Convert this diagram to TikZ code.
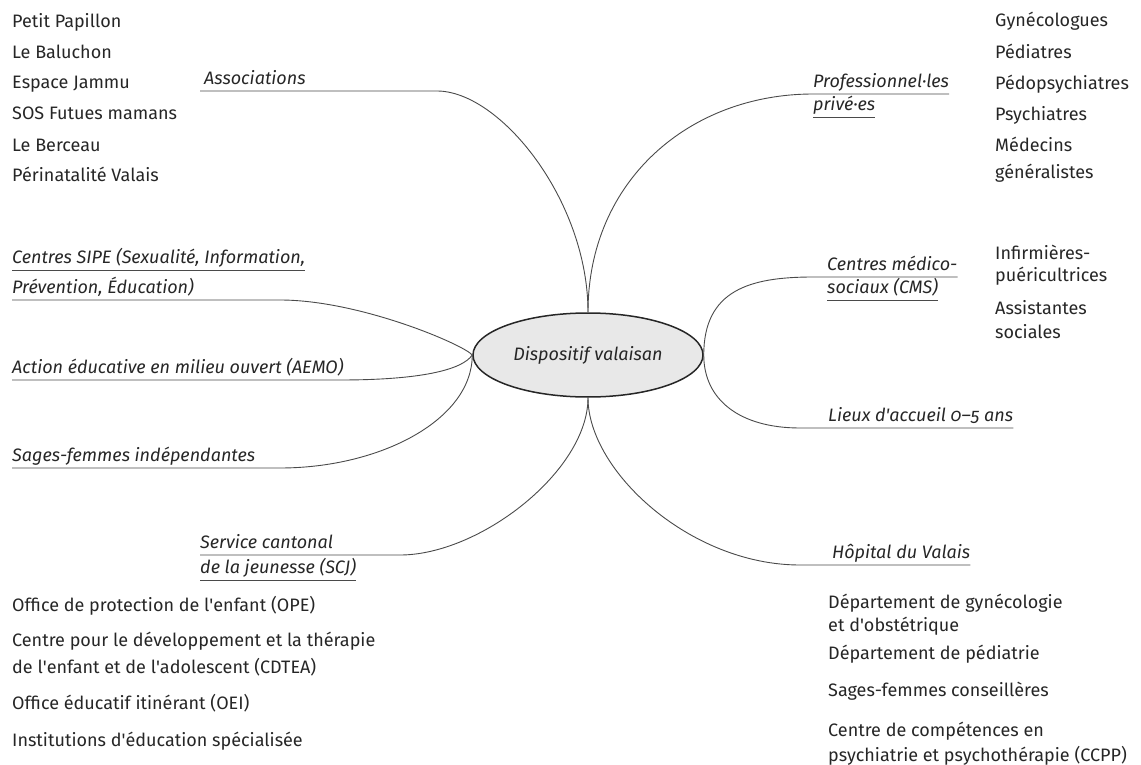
\documentclass[tikz,border=0pt]{standalone}
\usepackage{fontspec}
\setmainfont{Fira Sans}[Numbers=OldStyle]
\usetikzlibrary{positioning,shapes.geometric}
\definecolor{ink}{HTML}{262626}
\definecolor{twiggray}{HTML}{4a4a4a}
\definecolor{hubfill}{HTML}{e8e8e8}
\newcommand{\apos}{\textquotesingle}
\tikzset{
  entry/.style={
    anchor = base west,
    inner sep = 0pt,
    text = ink,
    font = \fontsize{18}{22}\selectfont
  },
  branchtext/.style={
    anchor = south west,
    inner xsep = 0pt,
    inner ysep = 0pt,
    text depth = 6pt,
    text = ink,
    font = \fontsize{18}{22}\selectfont\itshape
  },
  hub/.style={
    shape = ellipse,
    draw = ink,
    fill = hubfill,
    line width = 1.5pt,
    minimum width = 230pt,
    minimum height = 84pt,
    inner sep = 0pt,
    text = ink,
    font = \fontsize{18}{22}\selectfont\itshape
  },
  twig/.style={
    draw = twiggray,
    line width = 0.9pt
  }
}

\begin{document}
\begin{tikzpicture}[x=1pt,y=-1pt]
    \useasboundingbox (0,0) rectangle (1141,765);
    \node[hub] (hub) at (588,355) {Dispositif valaisan};

    % branch labels
    \node[branchtext] (assoc) at (204,91) {Associations};
    \node[branchtext] (prof) at (813,94) {Professionnel·les};
    \node[branchtext] (prof2) at (813,117) {privé·es};
    \node[branchtext] (sipe1) at (12,270) {Centres SIPE (Sexualité, Information,};
    \node[branchtext] (sipe2) at (12,300) {Prévention, Éducation)};
    \node[branchtext] (aemo) at (12,380) {Action éducative en milieu ouvert (AEMO)};
    \node[branchtext] (sages) at (12,468) {Sages-femmes indépendantes};
    \node[branchtext] (scj1) at (200,555) {Service cantonal};
    \node[branchtext] (scj2) at (200,580) {de la jeunesse (SCJ)};
    \node[branchtext] (cms1) at (827,277) {Centres médico-};
    \node[branchtext] (cms2) at (827,300) {sociaux (CMS)};
    \node[branchtext] (lieux) at (828,428) {Lieux d\apos accueil 0–5 ans};
    \node[branchtext] (hop) at (832,565) {Hôpital du Valais};

    % underlines of the other lines
    \draw[twig] (prof2.south west) -- (prof2.south east);
    \draw[twig] (sipe1.south west) -- (sipe1.south east);
    \draw[twig] (scj2.south west) -- (scj2.south east);
    \draw[twig] (cms2.south west) -- (cms2.south east);

    % branches
    \draw[twig] ([xshift=-4pt]assoc.south west) -- ++(237,0) .. controls +(63,0) and +(0,-112) .. (hub.north);
    \draw[twig] (hub.north) .. controls +(0,-132) and +(-123,0) .. (prof.south west) -- (prof.south east);
    \draw[twig] (sipe2.south west) -- ++(268,0) .. controls +(80,0) and +(-8,-10) .. (hub.west);
    \draw[twig] (aemo.south west) -- ++(328,0) .. controls +(80,0) and +(-10,15) .. (hub.west);
    \draw[twig] (sages.south west) -- ++(268,0) .. controls +(100,0) and +(0,65) .. (hub.west);
    \draw[twig] (scj1.south west) -- ++(200,0) .. controls +(80,0) and +(0,73) .. (hub.south);
    \draw[twig] (hub.south) .. controls +(0,73) and +(-110,0) .. ([xshift=-32pt]hop.south west) -- (hop.south east);
    \draw[twig] (hub.east) .. controls +(0,45) and +(-60,0) .. ([xshift=-28pt]lieux.south west) -- (lieux.south east);
    \draw[twig] (hub.east) .. controls +(0,-65) and +(-63,0) .. ([xshift=-14pt]cms1.south west) -- (cms1.south east);

    % lists
    \foreach \y/\t [count=\i] in {27.5/Petit Papillon, 58.5/Le Baluchon, 88.5/Espace Jammu,
        119.5/SOS Futues mamans, 151.5/Le Berceau, 181.5/Périnatalité Valais}{
        \node[entry] (asso\i) at (12,\y) {\t};
    }
    \foreach \y/\t [count=\i] in {26.5/Gynécologues, 59/Pédiatres, 89.5/Pédopsychiatres,
        121/Psychiatres, 151.5/Médecins, 178.5/généralistes}{
        \node[entry] (prive\i) at (995,\y) {\t};
    }
    \foreach \y/\t [count=\i] in {259.5/Infirmières-, 281.5/puéricultrices,
        314.5/Assistantes, 338.5/sociales}{
        \node[entry] (cmsitem\i) at (995,\y) {\t};
    }
    \foreach \y/\t [count=\i] in {611.5/Office de protection de l\apos enfant (OPE),
        646.5/Centre pour le développement et la thérapie,
        673.5/de l\apos enfant et de l\apos adolescent (CDTEA),
        709.5/Office éducatif itinérant (OEI),
        746.5/Institutions d\apos éducation spécialisée}{
        \node[entry] (scjitem\i) at (12,\y) {\t};
    }
    \foreach \y/\t [count=\i] in {608.5/Département de gynécologie, 631.5/et d\apos obstétrique,
        659.5/Département de pédiatrie, 696.5/Sages-femmes conseillères,
        736.5/Centre de compétences en, 761.5/psychiatrie et psychothérapie (CCPP)}{
        \node[entry] (hopitem\i) at (828,\y) {\t};
    }
\end{tikzpicture}
\end{document}
